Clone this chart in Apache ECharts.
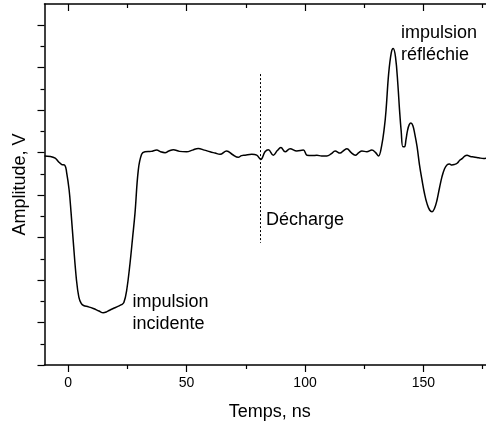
<!DOCTYPE html>
<html>
<head>
<meta charset="utf-8">
<script src="https://cdn.jsdelivr.net/npm/echarts@6/dist/echarts.min.js"></script>
<style>html,body{margin:0;padding:0;background:#fff}#c{width:486px;height:426px}</style>
</head>
<body>
<div id="c"></div>
<script>
// Time (ns)
const time = [-10,-7.5,-5.5,-4,-2.7,-1.4,-0.7,0.4,1.2,2.1,3.5,4.5,5.5,6.5,8.5,10.6,13,14.8,16.2,17.5,19,21,22.5,23.5,24.7,26.1,27.2,28.2,29.6,31,32.4,35,37.4,39,40.9,42.5,44.4,47,50,52.5,54.9,57.5,59.9,62,64.1,66.9,69.5,71.8,73.2,74.7,77.5,79.6,81.3,83.1,84.5,86.6,88.3,89.8,91.6,93.7,96.5,99.3,100.8,103,105,107,109.2,111,112.7,114.8,116.3,117.7,119.5,121.2,122.7,124,126.1,128.2,129.8,131,132.3,133.5,134.2,135.3,136.4,137.2,138.2,139.2,139.9,140.6,141.3,142,142.6,143.3,144,144.7,145.5,146.3,147.3,148.3,149.4,150.5,151.5,152.6,153.6,154.6,155.7,156.8,157.8,158.9,159.9,161,162,163,164.2,165.3,166.3,167.4,168.4,169.8,171.2,173.3,175.4,177];
// Amplitude (arbitrary units, axis unlabeled)
const amplitude = [4.92,4.91,4.87,4.78,4.72,4.70,4.55,4.12,3.60,2.94,2.00,1.60,1.45,1.40,1.37,1.33,1.27,1.23,1.25,1.29,1.33,1.38,1.42,1.47,1.76,2.39,3.0,3.57,4.59,4.96,5.02,5.03,5.06,5.02,5.00,5.04,5.07,5.03,5.02,5.06,5.10,5.06,5.02,4.99,4.96,5.04,4.95,4.89,4.93,4.94,4.96,4.94,4.84,5.02,5.07,4.94,5.05,5.12,5.02,5.09,5.04,5.06,4.94,4.93,4.94,4.92,4.92,4.97,5.04,4.99,5.05,5.09,5.00,4.94,5.00,5.04,5.02,5.06,5.00,4.92,5.15,5.6,6.0,6.86,7.35,7.45,7.25,6.6,6.0,5.5,5.14,5.14,5.30,5.53,5.66,5.70,5.64,5.45,5.14,4.72,4.35,4.02,3.80,3.65,3.61,3.68,3.88,4.18,4.43,4.62,4.71,4.73,4.71,4.72,4.75,4.82,4.86,4.92,4.94,4.91,4.90,4.88,4.86,4.88];
// Tick values
const xMajorTicks = [0,50,100,150];
const xMinorTicks = [25,75,125,175];
const yMajorTicks = [0,1,2,3,4,5,6,7,8];
const yMinorTicks = [0.5,1.5,2.5,3.5,4.5,5.5,6.5,7.5];
// Discharge marker
const dechargeTime = 81.3;
const dechargeRange = [2.88, 6.85];

const FONT = 'Liberation Sans, Arial, sans-serif';
const data = time.map((t,i)=>[t, amplitude[i]]);
const xRange = {min:-10, max:176.4};
const yRange = {min:0, max:8.5};
const axisLineStyle = {color:'#000', width:1.5};

function xAx(pos, ticks, len, inside, showLine, showLabel, extra){
  return Object.assign({
    type:'value', position:pos, min:xRange.min, max:xRange.max, gridIndex:0,
    axisLine:{show:showLine, onZero:false, lineStyle:axisLineStyle},
    axisTick:{show:true, inside:inside, length:len, customValues:ticks, lineStyle:{color:'#000', width:1.2}},
    axisLabel:{show:showLabel, customValues:ticks, color:'#000', fontSize:14, fontFamily:FONT, margin:11},
    splitLine:{show:false}
  }, extra||{});
}
function yAx(ticks, len, showLine, extra){
  return Object.assign({
    type:'value', position:'left', min:yRange.min, max:yRange.max,
    axisLine:{show:showLine, onZero:false, lineStyle:axisLineStyle},
    axisTick:{show:true, inside:false, length:len, customValues:ticks, lineStyle:{color:'#000', width:1.2}},
    axisLabel:{show:false, customValues:ticks},
    splitLine:{show:false}
  }, extra||{});
}

const chart = echarts.init(document.getElementById('c'), null, {renderer:'canvas'});
chart.setOption({
  animation:false,
  backgroundColor:'#fff',
  grid:{left:44.5, top:4, right:0, bottom:61},
  xAxis:[
    xAx('bottom', xMajorTicks, 7, false, true, true, {
      name:'Temps, ns', nameLocation:'middle', nameGap:38,
      nameTextStyle:{color:'#000', fontSize:18, fontFamily:FONT, padding:[0,0,0,9]}
    }),
    xAx('bottom', xMinorTicks, 4, false, false, false),
    xAx('top', xMajorTicks, 7, true, true, false),
    xAx('top', xMinorTicks, 4, true, false, false)
  ],
  yAxis:[
    yAx(yMajorTicks, 7, true, {
      name:'Amplitude, V', nameLocation:'middle', nameGap:15, nameRotate:90,
      nameTextStyle:{color:'#000', fontSize:18, fontFamily:FONT}
    }),
    yAx(yMinorTicks, 4, false)
  ],
  series:[{
    type:'line', data:data, xAxisIndex:0, yAxisIndex:0,
    smooth:0.4, symbol:'none', clip:true,
    lineStyle:{color:'#000', width:1.5},
    markLine:{
      silent:true, symbol:'none', label:{show:false},
      lineStyle:{color:'#000', width:1, type:[2,2]},
      data:[[{coord:[dechargeTime, dechargeRange[1]]},{coord:[dechargeTime, dechargeRange[0]]}]]
    }
  }],
  graphic:[
    {type:'text', x:132.5, y:291, style:{text:'impulsion\nincidente', font:'18px '+FONT, lineHeight:22, fill:'#000', textVerticalAlign:'top'}},
    {type:'text', x:401, y:22, style:{text:'impulsion\nréfléchie', font:'18px '+FONT, lineHeight:22, fill:'#000', textVerticalAlign:'top'}},
    {type:'text', x:266, y:209, style:{text:'Décharge', font:'18px '+FONT, lineHeight:22, fill:'#000', textVerticalAlign:'top'}}
  ]
});
</script>
</body>
</html>
